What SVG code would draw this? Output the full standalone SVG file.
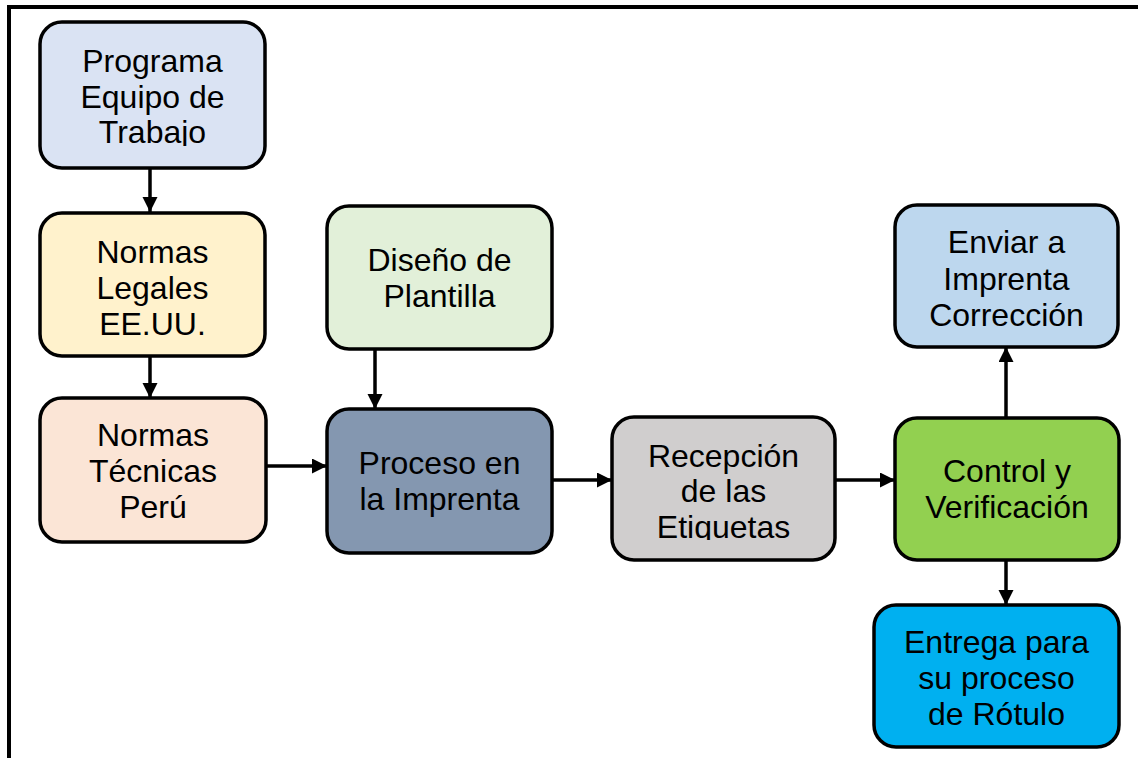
<svg xmlns="http://www.w3.org/2000/svg" width="1138" height="758" viewBox="0 0 1138 758">
<style>
.box{stroke:#000;stroke-width:3.5}
.t{font-family:"Liberation Sans",Arial,sans-serif;font-size:32px;fill:#000;text-anchor:middle}
.c{stroke:#000;stroke-width:3.5;fill:none;marker-end:url(#ah)}
</style>
<defs>
<marker id="ah" markerUnits="userSpaceOnUse" markerWidth="18" markerHeight="16" refX="15" refY="7.5" orient="auto">
<path d="M0,0 L15,7.5 L0,15 Z" fill="#000"/>
</marker>
<clipPath id="clip1"><rect x="40" y="20" width="226" height="126"/></clipPath>
<clipPath id="clip6"><rect x="612" y="415" width="224" height="125"/></clipPath>
</defs>
<rect width="1138" height="758" fill="#fff"/>
<path d="M9,758 V7 H1138" fill="none" stroke="#000" stroke-width="4"/>
<g id="connectors">
<line class="c" x1="150" y1="168" x2="150" y2="212"/>
<line class="c" x1="150" y1="356" x2="150" y2="398"/>
<line class="c" x1="266" y1="466" x2="327" y2="466"/>
<line class="c" x1="375" y1="349" x2="375" y2="409"/>
<line class="c" x1="553" y1="480" x2="612" y2="480"/>
<line class="c" x1="836" y1="480" x2="895" y2="480"/>
<line class="c" x1="1006" y1="418" x2="1006" y2="347"/>
<line class="c" x1="1006" y1="560" x2="1006" y2="605"/>
</g>
<g id="n1">
<rect class="box" x="40" y="22" width="225" height="146" rx="22" fill="#DAE3F3"/>
<g clip-path="url(#clip1)">
<text class="t" x="152.5" y="72">Programa</text>
<text class="t" x="152.5" y="108">Equipo de</text>
<text class="t" x="152.5" y="143">Trabajo</text>
</g>
</g>
<g id="n2">
<rect class="box" x="40" y="213" width="225" height="143" rx="22" fill="#FFF2CC"/>
<text class="t" x="152.5" y="263">Normas</text>
<text class="t" x="152.5" y="299">Legales</text>
<text class="t" x="152.5" y="335">EE.UU.</text>
</g>
<g id="n3">
<rect class="box" x="40" y="398" width="226" height="144" rx="22" fill="#FBE5D6"/>
<text class="t" x="153" y="446">Normas</text>
<text class="t" x="153" y="482">Técnicas</text>
<text class="t" x="153" y="518">Perú</text>
</g>
<g id="n4">
<rect class="box" x="327" y="206" width="225" height="143" rx="22" fill="#E2F0D9"/>
<text class="t" x="439.5" y="271">Diseño de</text>
<text class="t" x="439.5" y="307">Plantilla</text>
</g>
<g id="n5">
<rect class="box" x="327" y="409" width="225" height="144" rx="22" fill="#8497B0"/>
<text class="t" x="439.5" y="474">Proceso en</text>
<text class="t" x="439.5" y="510">la Imprenta</text>
</g>
<g id="n6">
<rect class="box" x="612" y="417" width="223" height="143" rx="22" fill="#D0CECE"/>
<g clip-path="url(#clip6)">
<text class="t" x="723.5" y="467">Recepción</text>
<text class="t" x="723.5" y="502">de las</text>
<text class="t" x="723.5" y="538">Etiquetas</text>
</g>
</g>
<g id="n7">
<rect class="box" x="895" y="418" width="224" height="142" rx="22" fill="#92D050"/>
<text class="t" x="1007" y="482">Control y</text>
<text class="t" x="1007" y="518">Verificación</text>
</g>
<g id="n8">
<rect class="box" x="895" y="205" width="223" height="142" rx="22" fill="#BDD7EE"/>
<text class="t" x="1006.5" y="253">Enviar a</text>
<text class="t" x="1006.5" y="290">Imprenta</text>
<text class="t" x="1006.5" y="326">Corrección</text>
</g>
<g id="n9">
<rect class="box" x="874" y="605" width="245" height="142" rx="22" fill="#00B0F0"/>
<text class="t" x="996.5" y="653">Entrega para</text>
<text class="t" x="996.5" y="689">su proceso</text>
<text class="t" x="996.5" y="725">de Rótulo</text>
</g>
</svg>
